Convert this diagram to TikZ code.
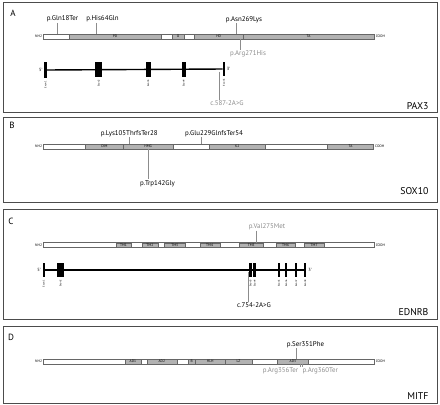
\documentclass[tikz,border=0pt]{standalone}
\usepackage{fontspec}
\setmainfont{PT Sans}
\usetikzlibrary{positioning}
\tikzset{
    panel/.style={draw=black!70, line width=0.9pt}, % frame round each gene
    protein/.style={draw=black!60, fill=white, minimum height=4.6pt, inner sep=0pt, anchor=west, line width=0.45pt}, % whole protein bar
    protdomain/.style={draw=black!60, fill=black!30, minimum height=4.6pt, inner sep=0pt, anchor=west, line width=0.3pt, font=\fontsize{3.6}{4}\selectfont},
    term/.style={font=\fontsize{3.6}{4}\selectfont, inner sep=0.6pt}, % NH2 and COOH
    mut/.style={font=\fontsize{6.9}{8}\selectfont, inner sep=0.5pt}, % mutation labels
    mutgrey/.style={mut, text=black!45},
    mutline/.style={draw=black!45, line width=0.4pt},
    gene/.style={line width=1.4pt},
    exon/.style={fill=black, inner sep=0pt, minimum height=15pt},
    exonlabel/.style={font=\fontsize{2.6}{3}\selectfont, rotate=90, anchor=east, inner sep=0.5pt},
    prime/.style={font=\fontsize{4.5}{5}\selectfont, inner sep=0.5pt},
    letter/.style={font=\fontsize{9}{10}\selectfont},
    genename/.style={font=\fontsize{9.8}{11}\selectfont, anchor=east},
}
\begin{document}
\begin{tikzpicture}[x=1pt, y=-1pt]
\useasboundingbox (0,0) rectangle (440,405);

% A: PAX3
\draw[panel] (3,2.5) rectangle (437,112);
\node[letter] (la) at (13,13) {A};
\node[protein, minimum width=330.7pt] (paxp) at (43.3,36.5) {};
\node[term, left=0.5pt of paxp] (paxn) {NH2};
\node[term, right=0.5pt of paxp] (paxc) {COOH};
\node[protdomain, minimum width=91.7pt] (paxpd) at (69,36.5) {PD};
\node[protdomain, minimum width=12.3pt] (paxo) at (171.7,36.5) {O};
\node[protdomain, minimum width=49pt] (paxhd) at (194,36.5) {HD};
\node[protdomain, minimum width=131pt] (paxta) at (243,36.5) {TA};
\node[mut] (pax18) at (62.5,19) {p.Gln18Ter};
\node[mut] (pax64) at (102.5,19) {p.His64Gln};
\node[mut] (pax269) at (244,19.3) {p.Asn269Lys};
\node[mutgrey] (pax271) at (248,54) {p.Arg271His};
\coordinate (c18) at (57.3,34.2);
\coordinate (c64) at (95.7,34.2);
\coordinate (c269) at (235.7,34.2);
\coordinate (c271) at (240,38.8);
\draw[mutline] (pax18.south -| c18) -- (c18);
\draw[mutline] (pax64.south -| c64) -- (c64);
\draw[mutline] (pax269.south -| c269) -- (c269);
\draw[mutline] (c271) -- (pax271.north -| c271);
\node[exon, minimum width=2.4pt, minimum height=16.6pt] (paxe1) at (45.5,70) {};
\node[exon, minimum width=7.3pt] (paxe2) at (98.7,69.5) {};
\node[exon, minimum width=5.3pt] (paxe3) at (148.3,69.5) {};
\node[exon, minimum width=4.3pt] (paxe4) at (183.8,69.5) {};
\node[exon, minimum width=2.3pt, minimum height=14.5pt] (paxe5) at (223.9,69) {};
\draw[gene] (paxe1) -- (paxe5);
\node[prime, left=1pt of paxe1] (pax5p) {5'};
\node[prime, right=1pt of paxe5] (pax3p) {3'};
\node[exonlabel] at ([yshift=-2pt]paxe1.south) {Exon1};
\node[exonlabel] at ([yshift=-2pt]paxe2.south) {Exon2};
\node[exonlabel] at ([yshift=-2pt]paxe3.south) {Exon3};
\node[exonlabel] at ([yshift=-2pt]paxe4.south) {Exon4};
\node[exonlabel] at ([yshift=-2pt]paxe5.south) {Exon5};
\node[mutgrey] (pax587) at (227,102.7) {c.587-2A>G};
\coordinate (c587) at (219,71.5);
\draw[mutline] (c587) -- (pax587.north -| c587);
\node[genename] (paxname) at (432,106) {PAX3};

% B: SOX10
\draw[panel] (3,117.3) rectangle (437,202.3);
\node[letter] (lb) at (12,125) {B};
\node[protein, minimum width=330pt] (soxp) at (43.3,146.5) {};
\node[term, left=0.5pt of soxp] (soxn) {NH2};
\node[term, right=0.5pt of soxp] (soxc) {COOH};
\node[protdomain, minimum width=38pt] (soxdim) at (85.3,146.5) {DIM};
\node[protdomain, minimum width=49.4pt] (soxhmg) at (123.3,146.5) {HMG};
\node[protdomain, minimum width=55.7pt] (soxk2) at (209.3,146.5) {K2};
\node[protdomain, minimum width=46pt] (soxta) at (327.3,146.5) {TA};
\node[mut] (sox105) at (129.2,133.3) {p.Lys105ThrfsTer28};
\node[mut] (sox229) at (214,133.3) {p.Glu229GlnfsTer54};
\node[mut] (sox142) at (157.5,183.3) {p.Trp142Gly};
\coordinate (c105) at (129.3,144.2);
\coordinate (c229) at (201,144.2);
\coordinate (c142) at (148.3,148.8);
\draw[mutline] (sox105.south -| c105) -- (c105);
\draw[mutline] (sox229.south -| c229) -- (c229);
\draw[mutline] (c142) -- (sox142.north -| c142);
\node[genename] (soxname) at (432,191.5) {SOX10};

% C: EDNRB
\draw[panel] (3,209.3) rectangle (437,319);
\node[letter] (lc) at (11,221.7) {C};
\node[protein, minimum width=330.7pt] (ednp) at (43.3,245) {};
\node[term, left=0.5pt of ednp] (ednn) {NH2};
\node[term, right=0.5pt of ednp] (ednc) {COOH};
\node[protdomain, minimum width=15.3pt] (tm1) at (115.7,245) {TM1};
\node[protdomain, minimum width=16pt] (tm2) at (141.7,245) {TM2};
\node[protdomain, minimum width=20.7pt] (tm3) at (164.3,245) {TM3};
\node[protdomain, minimum width=20pt] (tm4) at (199.5,245) {TM4};
\node[protdomain, minimum width=24.3pt] (tm5) at (239,245) {TM5};
\node[protdomain, minimum width=19pt] (tm6) at (276,245) {TM6};
\node[protdomain, minimum width=20pt] (tm7) at (304,245) {TM7};
\node[mutgrey] (edn275) at (267,226.7) {p.Val275Met};
\coordinate (c275) at (256,242.7);
\draw[mutline] (edn275.south -| c275) -- (c275);
\node[exon, minimum width=2.3pt, minimum height=14.6pt] (edne1) at (43.8,270) {};
\node[exon, minimum width=7.6pt, minimum height=14pt] (edne2) at (60.5,270) {};
\node[exon, minimum width=2.4pt, minimum height=14pt] (edne3) at (250.5,270) {};
\node[exon, minimum width=2.7pt, minimum height=14pt] (edne4) at (254.7,270) {};
\node[exon, minimum width=2.4pt, minimum height=14pt] (edne5) at (279,270) {};
\node[exon, minimum width=2.4pt, minimum height=14pt] (edne6) at (286.2,270) {};
\node[exon, minimum width=2.4pt, minimum height=14pt] (edne7) at (296.2,270) {};
\node[exon, minimum width=2.4pt, minimum height=14pt] (edne8) at (305.2,270) {};
\draw[gene] (edne1) -- (edne8);
\node[prime, left=1pt of edne1] (edn5p) {5'};
\node[prime, right=1pt of edne8] (edn3p) {3'};
\node[exonlabel] at ([yshift=-2pt]edne1.south) {Exon1};
\node[exonlabel] at ([yshift=-2pt]edne2.south) {Exon2};
\node[exonlabel] at ([yshift=-2pt]edne3.south) {Exon3};
\node[exonlabel] at ([yshift=-2pt]edne4.south) {Exon4};
\node[exonlabel] at ([yshift=-2pt]edne5.south) {Exon5};
\node[exonlabel] at ([yshift=-2pt]edne6.south) {Exon6};
\node[exonlabel] at ([yshift=-2pt]edne7.south) {Exon7};
\node[exonlabel] at ([yshift=-2pt]edne8.south) {Exon8};
\node[mut] (edn754) at (254,305) {c.754-2A>G};
\coordinate (c754) at (248,272);
\draw[mutline] (c754) -- (edn754.north -| c754);
\node[genename] (ednname) at (432,312.5) {EDNRB};

% D: MITF
\draw[panel] (3,326) rectangle (437,403);
\node[letter] (ld) at (11,337) {D};
\node[protein, minimum width=330.7pt] (mitp) at (43.3,361.5) {};
\node[term, left=0.5pt of mitp] (mitn) {NH2};
\node[term, right=0.5pt of mitp] (mitc) {COOH};
\node[protdomain, minimum width=16.5pt] (mitad1) at (124.5,361.5) {AD1};
\node[protdomain, minimum width=30pt] (mitad2) at (146.7,361.5) {AD2};
\node[protdomain, minimum width=7.3pt] (mitb) at (188,361.5) {B};
\node[protdomain, minimum width=29.7pt] (mithlh) at (195.3,361.5) {HLH};
\node[protdomain, minimum width=26.7pt] (mitlz) at (225,361.5) {LZ};
\node[protdomain, minimum width=31pt] (mitad3) at (277.3,361.5) {AD3};
\node[mut] (mit351) at (305.5,344.3) {p.Ser351Phe};
\node[mutgrey] (mit356) at (280.5,370.7) {p.Arg356Ter};
\node[mutgrey] (mit360) at (320.3,370.7) {p.Arg360Ter};
\coordinate (c351) at (296,359.2);
\coordinate (c356) at (300,363.8);
\coordinate (c360) at (302.3,363.8);
\draw[mutline] (mit351.south -| c351) -- (c351);
\draw[mutline] (c356) -- (mit356.north -| c356);
\draw[mutline] (c360) -- (mit360.north -| c360);
\node[genename] (mitname) at (432,396) {MITF};
\end{tikzpicture}
\end{document}
